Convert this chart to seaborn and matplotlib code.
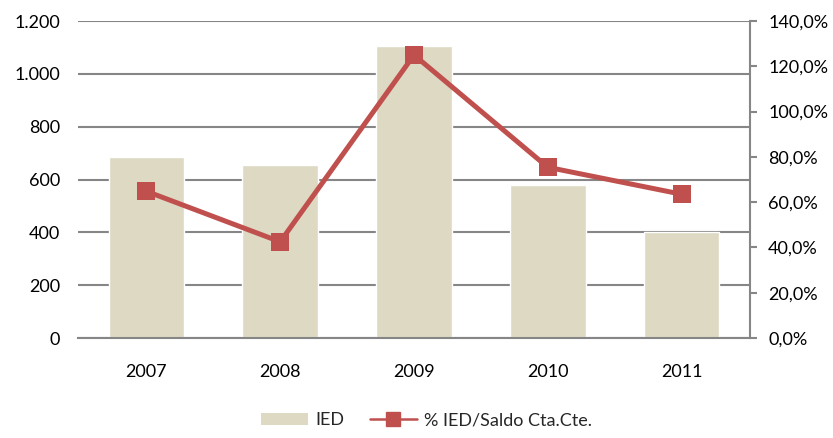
import matplotlib
matplotlib.use("Agg")
import matplotlib.pyplot as plt
import seaborn as sns
from matplotlib.ticker import FuncFormatter, MultipleLocator
from matplotlib.patches import Patch
from matplotlib.lines import Line2D

# datos
anios = ["2007", "2008", "2009", "2010", "2011"]
ied = [685, 656, 1105, 579, 403]
pct_ied_saldo = [0.648, 0.425, 1.25, 0.754, 0.635]

color_barra = "#DDD9C3"
color_linea = "#C0504D"
color_grid = "#868686"

sns.set_theme(style="white")
plt.rcParams["font.family"] = ["Lato", "DejaVu Sans"]

fig = plt.figure(figsize=(8.33, 4.38), dpi=100)
ax = fig.add_axes([0.0936, 0.2283, 0.8068, 0.7237])

sns.barplot(x=anios, y=ied, color=color_barra, width=0.566, ax=ax, saturation=1)
ax.set_ylim(0, 1200)
ax.yaxis.set_major_locator(MultipleLocator(200))
ax.yaxis.set_major_formatter(FuncFormatter(lambda v, p: f"{int(v):,}".replace(",", ".")))
ax.grid(axis="y", color=color_grid, linewidth=1.5)
ax.set_axisbelow(True)
for s in ["top", "left", "right"]:
    ax.spines[s].set_visible(False)
ax.spines["bottom"].set_color(color_grid)
ax.spines["bottom"].set_linewidth(1.5)
ax.tick_params(axis="y", length=0, pad=13, labelsize=13, colors="black")
ax.tick_params(axis="x", length=0, pad=19, labelsize=13, colors="black")
ax.set_xlabel("")
ax.set_ylabel("")

ax2 = ax.twinx()
sns.lineplot(x=anios, y=pct_ied_saldo, ax=ax2, color=color_linea, linewidth=3.6,
             marker="s", markersize=13, markeredgewidth=0, sort=False)
ax2.set_ylim(0, 1.4)
ax2.yaxis.set_major_locator(MultipleLocator(0.2))
ax2.yaxis.set_major_formatter(FuncFormatter(lambda v, p: f"{v*100:.1f}%".replace(".", ",")))
for s in ["top", "left", "bottom"]:
    ax2.spines[s].set_visible(False)
ax2.spines["right"].set_color(color_grid)
ax2.spines["right"].set_linewidth(1.5)
ax2.tick_params(axis="y", length=5, width=1.5, color=color_grid, pad=8,
                labelsize=13, labelcolor="black")
ax2.set_ylabel("")
ax2.grid(False)

handles = [
    Patch(facecolor=color_barra, edgecolor="none", label="IED"),
    Line2D([0], [0], color=color_linea, linewidth=1.8, marker="s", markersize=10,
           label="% IED/Saldo Cta.Cte."),
]
fig.legend(handles=handles, loc="lower center", bbox_to_anchor=(0.512, -0.015), ncol=2,
           frameon=False, fontsize=13, handlelength=2.6, handleheight=0.6,
           handletextpad=0.4, columnspacing=1.4)

fig.savefig("out.png", dpi=100)
